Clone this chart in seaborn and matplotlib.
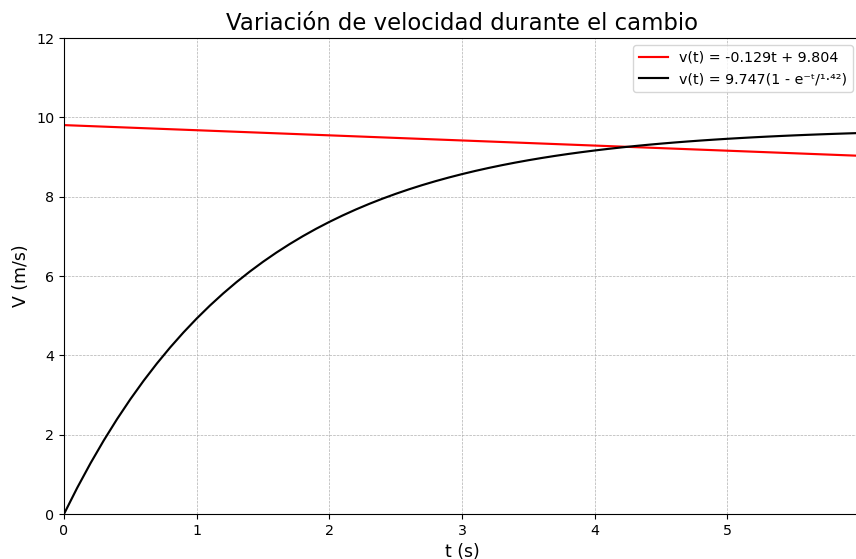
import matplotlib
matplotlib.use("Agg")
import matplotlib.pyplot as plt
import seaborn as sns
import pandas as pd

# Linear fit: v(t) = -0.129t + 9.804
t_lin = [0.0, 6.0]
v_lin = [9.804, 9.030]

# Exponential curve values
t_exp = [0.0, 0.1, 0.2, 0.3, 0.4, 0.5, 0.6, 0.7, 0.8, 0.9,
         1.0, 1.1, 1.2, 1.3, 1.4, 1.5, 1.6, 1.7, 1.8, 1.9,
         2.0, 2.1, 2.2, 2.3, 2.4, 2.5, 2.6, 2.7, 2.8, 2.9,
         3.0, 3.1, 3.2, 3.3, 3.4, 3.5, 3.6, 3.7, 3.8, 3.9,
         4.0, 4.1, 4.2, 4.3, 4.4, 4.5, 4.6, 4.7, 4.8, 4.9,
         5.0, 5.1, 5.2, 5.3, 5.4, 5.5, 5.6, 5.7, 5.8, 5.9, 6.0]
v_exp = [0.0, 0.6628, 1.2806, 1.8563, 2.3929, 2.8930, 3.3591, 3.7934, 4.1983, 4.5756,
         4.9273, 5.2550, 5.5605, 5.8452, 6.1105, 6.3578, 6.5883, 6.8031, 7.0033, 7.1899,
         7.3637, 7.5258, 7.6769, 7.8176, 7.9488, 8.0711, 8.1851, 8.2913, 8.3903, 8.4825,
         8.5685, 8.6487, 8.7233, 8.7930, 8.8578, 8.9183, 8.9747, 9.0272, 9.0761, 9.1217,
         9.1643, 9.2039, 9.2408, 9.2752, 9.3073, 9.3372, 9.3651, 9.3910, 9.4153, 9.4378,
         9.4588, 9.4784, 9.4967, 9.5137, 9.5296, 9.5444, 9.5582, 9.5710, 9.5830, 9.5941, 9.6045]

label_lin = "v(t) = -0.129t + 9.804"
label_exp = "v(t) = 9.747(1 - e\u207b\u1d57/\u00b9\u00b7\u2074\u00b2)"
title = "Variación de velocidad durante el cambio"
xlabel = "t (s)"
ylabel = "V (m/s)"
yticks = [0, 2, 4, 6, 8, 10, 12]
xticks = [0, 1, 2, 3, 4, 5]

df_lin = pd.DataFrame({"t": t_lin, "v": v_lin})
df_exp = pd.DataFrame({"t": t_exp, "v": v_exp})

plt.rcParams['font.family'] = ['DejaVu Sans']
fig = plt.figure(figsize=(8.56, 5.59), dpi=100)
ax = fig.add_axes([64/856, 45/559, (860-64)/856, (514-38)/559])

sns.lineplot(data=df_lin, x="t", y="v", color="red", linewidth=1.55, label=label_lin, ax=ax)
sns.lineplot(data=df_exp, x="t", y="v", color="black", linewidth=1.55, label=label_exp, ax=ax)

ax.set_xlim(0, 6.0)
ax.set_ylim(0, 12)
ax.set_xticks(xticks)
ax.set_yticks(yticks)
ax.tick_params(labelsize=10.3)
ax.grid(True, linestyle="--", linewidth=0.5, color="#b0b0b0")
ax.set_title(title, fontsize=16.4)
ax.set_xlabel(xlabel, fontsize=12.4)
ax.set_ylabel(ylabel, fontsize=12.4)
ax.legend(loc="upper right", fontsize=10.3)

fig.savefig("out.png", dpi=100)
